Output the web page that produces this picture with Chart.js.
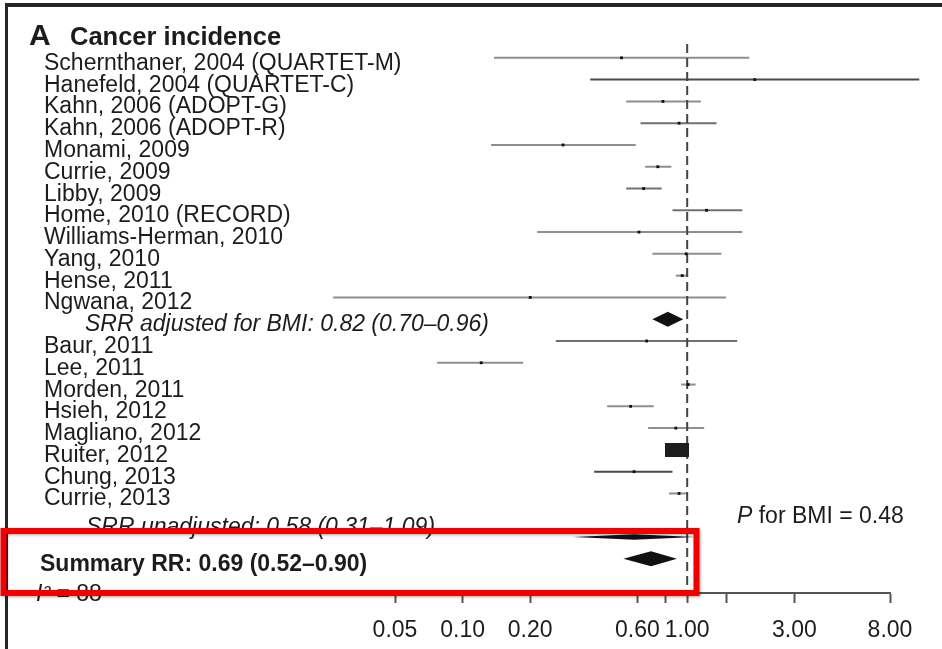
<!DOCTYPE html>
<html>
<head>
<meta charset="utf-8">
<title>Cancer incidence forest plot</title>
<script src="https://cdn.jsdelivr.net/npm/chart.js@4.4.0/dist/chart.umd.min.js"></script>
<style>
  html, body { margin: 0; padding: 0; background: #fff; }
  canvas { display: block; }
</style>
</head>
<body>
<canvas id="forest" width="942" height="649"></canvas>
<script>
// -----------------------
// Data
// -----------------------

// Studies adjusted for BMI
const group1 = [
  'Schernthaner, 2004 (QUARTET-M)', 'Hanefeld, 2004 (QUARTET-C)', 'Kahn, 2006 (ADOPT-G)',
  'Kahn, 2006 (ADOPT-R)', 'Monami, 2009', 'Currie, 2009', 'Libby, 2009', 'Home, 2010 (RECORD)',
  'Williams-Herman, 2010', 'Yang, 2010', 'Hense, 2011', 'Ngwana, 2012'
];
const group1RR = [0.51, 2.0, 0.78, 0.92, 0.28, 0.74, 0.64, 1.22, 0.61, 0.99, 0.95, 0.20];
const group1Lo = [0.138, 0.37, 0.535, 0.62, 0.134, 0.65, 0.535, 0.86, 0.215, 0.70, 0.89, 0.0265];
const group1Hi = [1.89, 10.8, 1.15, 1.35, 0.59, 0.85, 0.77, 1.76, 1.76, 1.42, 1.01, 1.49];

// Studies not adjusted for BMI
const group2 = [
  'Baur, 2011', 'Lee, 2011', 'Morden, 2011', 'Hsieh, 2012', 'Magliano, 2012',
  'Ruiter, 2012', 'Chung, 2013', 'Currie, 2013'
];
const group2RR = [0.66, 0.121, 1.01, 0.56, 0.89, 0.905, 0.58, 0.92];
const group2Lo = [0.26, 0.077, 0.94, 0.44, 0.67, 0.85, 0.385, 0.83];
const group2Hi = [1.67, 0.186, 1.09, 0.71, 1.19, 0.96, 0.86, 1.00];

// Pooled estimates
const pooledNames = ['SRR adjusted for BMI', 'SRR unadjusted', 'Summary RR'];
const pooledRR = [0.82, 0.58, 0.69];
const pooledLo = [0.70, 0.31, 0.52];
const pooledHi = [0.96, 1.09, 0.90];

const tickValues = [0.05, 0.1, 0.2, 0.6, 0.8, 1, 1.5, 3, 8];
const tickLabels = ['0.05', '0.10', '0.20', '0.60', '', '1.00', '', '3.00', '8.00'];

const heterogeneity = 88;
const pForBMI = 0.48;

// -----------------------
// Row layout
// -----------------------
const studies = group1.concat(group2);
const studyRR = group1RR.concat(group2RR);
const studyLo = group1Lo.concat(group2Lo);
const studyHi = group1Hi.concat(group2Hi);

const adjRow = group1.length;
const studyRows = studies.map((s, i) => (i < group1.length ? i : i + 1));
const unadjRow = group1.length + 1 + group2.length + 1;
const summaryRow = unadjRow + 1;
const pooledRows = [adjRow, unadjRow, summaryRow];

const darkLines = ['Hanefeld, 2004 (QUARTET-C)', 'Chung, 2013'];
const midLines = ['Kahn, 2006 (ADOPT-R)', 'Libby, 2009', 'Baur, 2011', 'Home, 2010 (RECORD)'];
const lineColour = name =>
  darkLines.includes(name) ? '#4a4a4a' : midLines.includes(name) ? '#707070' : '#8e8e8e';

// big weight box for Ruiter
const weightBox = document.createElement('canvas');
weightBox.width = 24;
weightBox.height = 14;
const wctx = weightBox.getContext('2d');
wctx.fillStyle = '#1e1e1e';
wctx.fillRect(0, 0, 24, 14);

const FONT = '"Liberation Sans", Arial, sans-serif';
Chart.defaults.font.family = FONT;

// CI lines, one dataset per study
const ciSets = studies.map((name, i) => ({
  type: 'line',
  label: name,
  data: [{ x: studyLo[i], y: studyRows[i] }, { x: studyHi[i], y: studyRows[i] }],
  borderColor: lineColour(name),
  borderWidth: 2,
  pointRadius: 0,
  clip: false
}));

const pointSet = {
  type: 'scatter',
  label: 'RR',
  data: studies.map((s, i) => ({ x: studyRR[i], y: studyRows[i] })),
  pointStyle: studies.map(s => (s === 'Ruiter, 2012' ? weightBox : 'rect')),
  pointRadius: 2,
  backgroundColor: '#111',
  borderWidth: 0,
  clip: false
};

const yMin = -1.14;
const yMax = 24.57;

const refLine = {
  type: 'line',
  label: 'null',
  data: [{ x: 1, y: -0.63 }, { x: 1, y: yMax }],
  borderColor: '#444',
  borderWidth: 2,
  borderDash: [9, 5],
  pointRadius: 0,
  clip: false
};

// diamonds for pooled estimates + text
const forestPlugin = {
  id: 'forest',
  afterDatasetsDraw(chart) {
    const { ctx, scales: { x, y } } = chart;
    const halfH = [7.5, 2.8, 7.5];
    ctx.save();
    ctx.fillStyle = '#111';
    pooledNames.forEach((n, i) => {
      const yc = y.getPixelForValue(pooledRows[i]);
      const xl = x.getPixelForValue(pooledLo[i]);
      const xm = x.getPixelForValue(pooledRR[i]);
      const xr = x.getPixelForValue(pooledHi[i]);
      ctx.beginPath();
      ctx.moveTo(xl, yc);
      ctx.lineTo(xm, yc - halfH[i]);
      ctx.lineTo(xr, yc);
      ctx.lineTo(xm, yc + halfH[i]);
      ctx.closePath();
      ctx.fill();
    });
    ctx.restore();
  },
  afterDraw(chart) {
    const { ctx, scales: { y } } = chart;
    const fmt = v => v.toFixed(2);
    const ci = i => `${pooledNames[i]}: ${fmt(pooledRR[i])} (${fmt(pooledLo[i])}\u2013${fmt(pooledHi[i])})`;
    ctx.save();
    ctx.fillStyle = '#1c1c1c';
    ctx.textBaseline = 'alphabetic';
    ctx.textAlign = 'left';

    // title
    ctx.font = `bold 30px ${FONT}`;
    ctx.fillText('A', 29, 45);
    ctx.font = `bold 25.5px ${FONT}`;
    ctx.fillText('Cancer incidence', 70, 45);

    // study labels
    ctx.font = `23px ${FONT}`;
    studies.forEach((s, i) => {
      ctx.fillText(s, 44, y.getPixelForValue(studyRows[i]) + 12);
    });

    ctx.font = `italic 23px ${FONT}`;
    ctx.fillText(ci(0), 85, y.getPixelForValue(adjRow) + 12);
    ctx.fillText(ci(1), 86, y.getPixelForValue(unadjRow) - 3);

    ctx.font = `bold 23px ${FONT}`;
    ctx.fillText(ci(2), 40, y.getPixelForValue(summaryRow) + 12);

    ctx.font = `italic 23px ${FONT}`;
    ctx.fillText('I\u00b2', 36, y.getPixelForValue(summaryRow) + 42);
    const iw = ctx.measureText('I\u00b2').width;
    ctx.font = `23px ${FONT}`;
    ctx.fillText(` = ${heterogeneity}`, 36 + iw, y.getPixelForValue(summaryRow) + 42);

    ctx.font = `italic 23px ${FONT}`;
    ctx.fillText('P', 737, 523);
    const pw = ctx.measureText('P').width;
    ctx.font = `23px ${FONT}`;
    ctx.fillText(` for BMI = ${pForBMI.toFixed(2)}`, 737 + pw, 523);

    // figure frame
    ctx.strokeStyle = '#262626';
    ctx.lineWidth = 4;
    ctx.beginPath();
    ctx.moveTo(5, 5);
    ctx.lineTo(942, 5);
    ctx.stroke();
    ctx.lineWidth = 3;
    ctx.beginPath();
    ctx.moveTo(6.5, 3);
    ctx.lineTo(6.5, 649);
    ctx.stroke();

    // red highlight box
    ctx.shadowColor = 'rgba(0,0,0,0.35)';
    ctx.shadowBlur = 3;
    ctx.shadowOffsetX = 1;
    ctx.shadowOffsetY = 1;
    ctx.strokeStyle = '#f20000';
    ctx.lineWidth = 6;
    ctx.strokeRect(3.5, 531, 693, 62);
    ctx.restore();
  }
};

// dataset 0 is drawn on top: points, then the null line, then CI lines
const forestChart = new Chart(document.getElementById('forest'), {
  data: { datasets: [pointSet, refLine, ...ciSets] },
  options: {
    responsive: false,
    animation: false,
    layout: { padding: { left: 395, right: 52, top: 33, bottom: 0 } },
    plugins: { legend: { display: false }, tooltip: { enabled: false } },
    scales: {
      x: {
        type: 'logarithmic',
        min: 0.05,
        max: 8,
        afterBuildTicks: scale => {
          scale.ticks = tickValues.map(v => ({ value: v }));
        },
        afterFit: scale => {
          scale.height = 56;
        },
        ticks: {
          autoSkip: false,
          maxRotation: 0,
          padding: 16,
          color: '#1c1c1c',
          font: { size: 23, family: FONT, lineHeight: 1 },
          callback: (value, index) => tickLabels[index]
        },
        grid: {
          drawOnChartArea: false,
          drawTicks: true,
          tickLength: 10,
          tickColor: '#555',
          tickWidth: 2
        },
        border: { display: true, color: '#555', width: 2 }
      },
      y: {
        type: 'linear',
        reverse: true,
        min: yMin,
        max: yMax,
        display: false
      }
    }
  },
  plugins: [forestPlugin]
});
</script>
</body>
</html>
